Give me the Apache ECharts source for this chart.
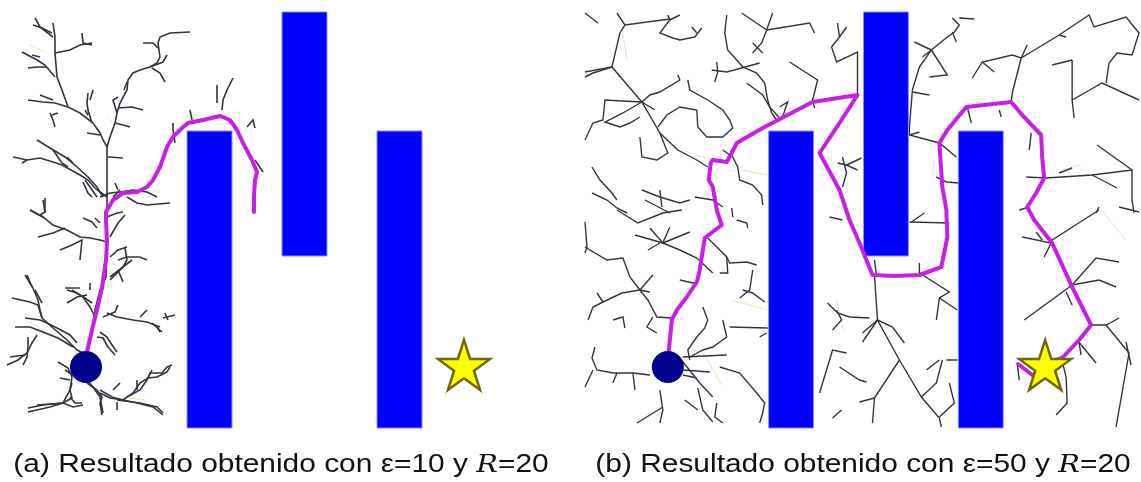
<!DOCTYPE html>
<html>
<head>
<meta charset="utf-8">
<script src="https://cdn.jsdelivr.net/npm/echarts@6/dist/echarts.min.js"></script>
<style>
  html, body { margin: 0; padding: 0; background: #ffffff; }
  #chart { width: 1141px; height: 482px; }
</style>
</head>
<body>
<div id="chart"></div>
<script>
// Workspace in pixels of the planning map (y grows downward)
const mapWidth = 560;
const mapHeight = 430;

// Rectangular obstacles: [xMin, yMin, xMax, yMax]
const obstacles = [
  [187, 131, 232, 428],
  [282, 12, 327, 256],
  [377, 131, 422, 428]
];

const startPoint = [86, 367];
const goalPoint = [464, 365];

const epsilonValues = [10, 50];
const radiusR = 20;
const panelLetters = ['a', 'b'];

// Explored tree branches, panel (a): eps = 10
const treeA = [
  [[35,18],[40,27],[53,37]],
  [[33,25],[42,28],[52,33]],
  [[53,23],[55,37],[55,53],[57,77],[62,90],[68,107],[80,113],[93,123],[100,133],[103,140],[107,147],[107,167],[107,187],[107,213],[107,243],[106,277],[100,290],[95,310],[92,330],[87,350]],
  [[55,53],[70,50],[80,45],[92,43]],
  [[82,33],[83,43],[92,45]],
  [[22,52],[37,60],[45,65],[55,77]],
  [[28,68],[38,67],[47,67]],
  [[32,55],[40,57]],
  [[28,100],[43,102],[55,103],[68,107]],
  [[40,95],[53,100]],
  [[50,113],[53,120],[55,127]],
  [[52,115],[58,113]],
  [[88,93],[87,103],[88,110],[92,123]],
  [[93,90],[90,100]],
  [[85,110],[88,115]],
  [[87,133],[100,135]],
  [[13,157],[27,160],[40,158],[53,162],[62,165],[80,175],[88,180],[95,188],[100,192],[107,197]],
  [[22,163],[27,160]],
  [[53,150],[62,163],[68,167]],
  [[37,140],[50,148],[65,157],[77,167],[88,177],[97,187],[103,197]],
  [[67,157],[73,163]],
  [[107,147],[110,137],[115,123],[117,113],[120,103],[127,90],[128,80],[133,73],[140,70],[150,67],[157,63],[160,57],[158,43],[160,37],[170,33],[190,32]],
  [[143,43],[153,43],[158,48]],
  [[150,67],[163,62],[167,55]],
  [[152,68],[160,73],[165,82]],
  [[115,123],[123,125],[130,127]],
  [[118,108],[132,107],[143,110]],
  [[117,113],[113,100],[118,97]],
  [[127,82],[124,90]],
  [[108,157],[123,158]],
  [[85,180],[90,187],[97,197]],
  [[83,182],[88,193],[92,197]],
  [[100,197],[110,193],[120,192],[133,190],[147,192],[157,197]],
  [[127,197],[137,203],[147,205],[170,203]],
  [[113,197],[120,190]],
  [[115,183],[118,190]],
  [[43,200],[45,213]],
  [[30,210],[43,217]],
  [[173,123],[173,130],[175,143]],
  [[190,110],[192,120]],
  [[217,85],[217,103]],
  [[233,78],[227,90],[223,100],[222,110]],
  [[247,127],[253,120],[255,128]],
  [[255,160],[263,172]],
  [[30,210],[43,217],[53,225],[67,230],[80,237],[90,238],[100,240],[107,242]],
  [[45,198],[45,212],[40,215]],
  [[38,237],[53,233],[65,228]],
  [[60,250],[72,245],[82,240],[80,260]],
  [[83,218],[92,222],[97,228]],
  [[95,218],[100,223]],
  [[107,217],[117,213],[123,212]],
  [[110,237],[118,223],[125,215]],
  [[110,257],[118,250],[127,247]],
  [[118,260],[127,257],[140,257],[147,260]],
  [[110,277],[123,267],[132,260]],
  [[110,280],[117,273],[123,267],[127,260],[125,248]],
  [[118,270],[123,282]],
  [[27,275],[32,287]],
  [[65,288],[80,288]],
  [[90,283],[90,290]],
  [[92,303],[85,298],[77,293],[67,290]],
  [[67,303],[77,297],[87,295]],
  [[72,290],[83,297],[90,307],[95,317]],
  [[107,313],[117,317],[133,320],[147,322],[160,327]],
  [[103,317],[115,312],[118,305]],
  [[147,310],[140,317]],
  [[163,318],[175,315]],
  [[152,323],[162,332]],
  [[157,327],[160,332]],
  [[165,313],[168,320]],
  [[12,298],[30,302],[38,305],[40,312],[42,318]],
  [[35,290],[42,303]],
  [[25,275],[33,288],[38,300],[40,310],[42,318],[53,328],[67,340],[77,350],[83,353]],
  [[25,318],[40,320],[47,323],[57,328],[70,335],[77,343]],
  [[15,327],[30,327],[43,332],[58,338],[73,347]],
  [[28,337],[28,347],[27,357],[23,365]],
  [[7,365],[18,360],[27,353],[32,343],[37,335]],
  [[10,357],[25,355]],
  [[97,337],[103,338],[108,347],[115,355]],
  [[100,332],[107,337],[112,345],[117,352]],
  [[58,362],[68,368],[72,377],[70,390],[63,403],[50,407],[28,412]],
  [[72,383],[70,390],[72,398],[63,403],[43,405],[28,408]],
  [[70,397],[75,403],[82,403]],
  [[37,405],[63,403],[73,407],[83,405]],
  [[65,370],[73,375]],
  [[60,378],[70,380]],
  [[87,380],[93,387],[100,397],[103,413]],
  [[87,383],[97,390],[102,397],[100,403],[102,415]],
  [[100,390],[112,397],[123,400],[137,403],[153,407],[163,415]],
  [[100,393],[110,398],[123,400],[133,393],[140,383],[148,378],[157,377],[167,372],[170,367]],
  [[117,400],[140,403],[157,407],[163,413]],
  [[137,390],[137,380]],
  [[148,378],[152,370]],
  [[113,390],[120,383]],
  [[127,397],[140,390],[147,380],[150,373],[162,373],[167,367],[172,365]],
  [[117,402],[117,410]]
];

// Rejected extensions, panel (a)
const faintA = [
  [[30,45],[45,52]], [[85,105],[95,113]], [[108,118],[118,127]],
  [[30,322],[45,332]], [[35,330],[70,343]], [[110,262],[125,270]],
  [[58,365],[70,372]], [[130,398],[145,400]]
];

// Explored tree branches, panel (b): eps = 50
const treeB = [
  [[3,13],[16,23]],
  [[35,13],[43,25],[88,19]],
  [[86,15],[88,20],[78,33],[91,38],[98,40],[113,37],[120,28]],
  [[110,27],[115,33]],
  [[88,20],[98,15]],
  [[43,25],[38,33],[30,67],[3,72]],
  [[30,67],[11,73],[3,77]],
  [[30,67],[60,102],[78,133],[86,153],[75,160],[60,157],[58,137]],
  [[60,102],[23,100],[21,120],[11,123],[3,140]],
  [[60,102],[41,113],[23,122],[38,127],[48,123],[58,117]],
  [[60,102],[68,95],[78,92],[98,80],[96,75]],
  [[60,102],[73,110]],
  [[78,133],[96,150],[115,160],[126,167]],
  [[106,80],[108,90],[126,100],[141,110],[148,120],[151,128],[141,137],[125,137],[116,127],[115,110],[98,107],[85,115],[76,127]],
  [[145,15],[143,33],[146,50],[155,60],[161,67],[175,73],[183,83],[186,100],[190,113],[195,120]],
  [[160,13],[185,30],[191,13]],
  [[185,30],[180,43],[171,53]],
  [[185,30],[228,23],[233,33]],
  [[135,62],[136,72],[133,82]],
  [[130,70],[145,72],[160,68],[178,63]],
  [[171,43],[181,53]],
  [[165,83],[181,95],[188,107],[198,118]],
  [[208,62],[236,80],[231,100],[233,108]],
  [[256,23],[258,37],[250,47],[255,62],[276,52],[276,95]],
  [[258,37],[265,27]],
  [[256,163],[265,165],[276,170]],
  [[261,157],[265,173],[261,187]],
  [[265,165],[280,158]],
  [[10,167],[18,180],[30,193],[35,200]],
  [[10,193],[25,200],[35,208],[45,213]],
  [[60,190],[78,197],[98,203],[108,200]],
  [[78,190],[80,207]],
  [[63,200],[88,213]],
  [[113,197],[131,200],[141,207]],
  [[141,150],[151,157],[156,167],[158,180],[171,185],[180,195],[181,205]],
  [[150,208],[151,217]],
  [[198,107],[206,102],[201,117]],
  [[3,222],[5,247],[3,253]],
  [[35,210],[56,223],[81,213],[100,210]],
  [[53,235],[81,243],[98,250],[115,258],[131,273]],
  [[68,228],[81,243],[88,227]],
  [[78,243],[66,250]],
  [[81,243],[108,232]],
  [[125,237],[145,257],[148,263],[165,262],[175,265]],
  [[145,257],[146,273],[138,273]],
  [[155,220],[165,223],[166,228]],
  [[3,247],[25,260],[41,258],[48,277],[58,290],[68,292]],
  [[58,290],[71,275]],
  [[58,290],[40,293],[21,302],[15,293]],
  [[21,302],[11,307],[6,320]],
  [[58,290],[66,300],[75,317],[90,318]],
  [[71,317],[65,327],[75,333]],
  [[31,320],[41,317],[43,328]],
  [[98,280],[111,283],[116,282]],
  [[161,290],[171,293],[183,302]],
  [[171,270],[168,290],[158,298]],
  [[121,307],[126,320],[123,328],[115,337],[106,350],[108,360]],
  [[141,320],[145,337],[131,347],[121,350],[108,357]],
  [[148,327],[186,328]],
  [[178,337],[185,333]],
  [[13,347],[10,358],[15,370],[31,373],[51,373],[68,375]],
  [[11,370],[3,387]],
  [[35,373],[31,383]],
  [[51,373],[53,390]],
  [[98,358],[118,383],[131,397]],
  [[101,357],[145,355]],
  [[101,370],[128,372]],
  [[101,375],[115,378]],
  [[138,367],[158,373],[175,393],[183,403],[181,413],[178,423]],
  [[116,388],[121,410],[131,422]],
  [[78,390],[81,410],[78,423]],
  [[81,407],[55,423]],
  [[103,400],[116,410]],
  [[135,403],[133,417],[141,423]],
  [[246,303],[256,313],[268,317],[288,318]],
  [[255,310],[260,320],[251,330]],
  [[238,393],[251,350],[265,353]],
  [[258,367],[278,380],[285,382]],
  [[251,418],[260,410]],
  [[248,217],[261,220]],
  [[371,18],[378,25],[373,32],[366,37],[350,50],[338,67],[331,90],[328,127],[328,135],[358,143],[375,157]],
  [[371,32],[375,42]],
  [[350,50],[333,42]],
  [[350,50],[341,57]],
  [[350,50],[366,75],[348,77]],
  [[331,92],[348,95]],
  [[378,18],[393,19]],
  [[328,135],[338,132]],
  [[391,78],[401,62],[431,55],[440,58],[446,45]],
  [[401,62],[413,72]],
  [[440,58],[431,93],[430,102]],
  [[440,58],[478,35],[508,15],[513,27],[545,17],[558,33],[551,55],[536,53],[528,63],[525,83]],
  [[478,35],[485,37]],
  [[491,60],[491,100],[493,118]],
  [[471,65],[491,60]],
  [[491,100],[521,83],[558,100]],
  [[386,107],[390,123]],
  [[418,110],[420,117]],
  [[450,133],[448,150]],
  [[445,177],[465,178],[511,175],[551,170],[551,200],[553,213]],
  [[516,145],[551,170]],
  [[511,175],[536,188]],
  [[478,173],[491,168]],
  [[355,177],[365,182],[378,183]],
  [[438,210],[448,207]],
  [[518,207],[515,213]],
  [[538,207],[558,212]],
  [[328,222],[368,223]],
  [[343,213],[330,222]],
  [[293,260],[295,275]],
  [[293,275],[296,320],[318,360],[340,397],[358,418],[360,427]],
  [[296,320],[281,342]],
  [[296,320],[311,327],[323,343]],
  [[296,320],[281,333]],
  [[318,360],[293,398],[291,423]],
  [[293,398],[278,402]],
  [[340,397],[355,383],[361,360]],
  [[358,417],[373,403],[368,383]],
  [[365,360],[376,360]],
  [[345,370],[358,360]],
  [[338,273],[368,292],[358,298],[355,320]],
  [[358,298],[376,310]],
  [[338,263],[338,275]],
  [[471,240],[518,210]],
  [[441,237],[470,243],[463,257]],
  [[455,232],[461,240]],
  [[491,285],[515,258],[538,262]],
  [[491,285],[518,280],[535,287]],
  [[491,285],[443,320]],
  [[485,292],[491,305]],
  [[508,325],[525,325],[538,318]],
  [[525,325],[548,353],[535,427]],
  [[545,342],[550,365]],
  [[496,340],[515,363]],
  [[498,343],[500,355]],
  [[480,357],[485,377],[486,403],[475,415]],
  [[436,363],[438,380]]
];

// Rejected extensions, panel (b)
const faintB = [
  [[40,28],[45,60]], [[100,150],[130,160]], [[160,170],[185,175]],
  [[150,300],[185,310]], [[120,350],[140,385]], [[255,300],[262,330]],
  [[520,210],[545,240]], [[480,170],[500,165]]
];

// Solution paths found by each run
const pathA = [
  [87,360],[87,352],[92,330],[97,310],[102,288],[106,260],[107,243],[106,220],[106,212],
  [113,200],[123,193],[137,192],[147,187],[153,180],[160,167],[167,147],[173,137],
  [182,128],[188,123],[203,120],[220,116],[230,120],[237,130],[243,143],[252,160],
  [257,172],[255,180],[254,197],[254,212]
];

const pathB = [
  [87,360],[87,350],[90,320],[95,310],[105,297],[115,282],[118,270],[123,238],[140,225],
  [135,210],[131,187],[127,180],[129,163],[131,160],[145,162],[150,153],[155,143],
  [181,128],[231,102],[276,95],[258,123],[238,153],[251,177],[258,190],[268,220],
  [278,243],[291,275],[313,276],[338,275],[360,267],[366,237],[365,210],[361,187],
  [358,143],[366,130],[385,107],[430,102],[441,115],[460,135],[461,157],[463,178],
  [455,193],[446,207],[453,220],[471,243],[491,287],[510,325],[498,340],[481,358],
  [475,360],[464,369],[451,375],[437,364]
];

const panels = [
  { tree: treeA, faint: faintA, path: pathA, left: 0, width: 1.6 },
  { tree: treeB, faint: faintB, path: pathB, left: 582, width: 1.4 }
];

const starPath = 'path://M50,0 L61.2,34.5 L97.6,34.5 L68.2,55.9 L79.4,90.5 L50,69.1 L20.6,90.5 L31.8,55.9 L2.4,34.5 L38.8,34.5 Z';

const grids = [], xAxes = [], yAxes = [], series = [];

panels.forEach((p, i) => {
  grids.push({ left: p.left, top: 0, width: mapWidth, height: mapHeight });
  xAxes.push({ type: 'value', gridIndex: i, min: 0, max: mapWidth, show: false });
  yAxes.push({ type: 'value', gridIndex: i, min: 0, max: mapHeight, inverse: true, show: false });

  series.push({
    type: 'lines',
    coordinateSystem: 'cartesian2d',
    xAxisIndex: i, yAxisIndex: i,
    polyline: true,
    silent: true,
    z: 1,
    lineStyle: { color: '#f1e2b8', width: 1, opacity: 1 },
    data: p.faint.map(c => ({ coords: c }))
  });

  series.push({
    type: 'lines',
    coordinateSystem: 'cartesian2d',
    xAxisIndex: i, yAxisIndex: i,
    polyline: true,
    silent: true,
    z: 1,
    lineStyle: { color: '#34343f', width: p.width, opacity: 1 },
    data: p.tree.map(c => ({ coords: c }))
  });

  series.push({
    type: 'custom',
    xAxisIndex: i, yAxisIndex: i,
    silent: true,
    z: 2,
    data: obstacles,
    renderItem: (params, api) => {
      const a = api.coord([api.value(0), api.value(1)]);
      const b = api.coord([api.value(2), api.value(3)]);
      return {
        type: 'rect',
        shape: { x: a[0], y: a[1], width: b[0] - a[0], height: b[1] - a[1] },
        style: { fill: '#0000ff', stroke: '#8c8cff', lineWidth: 1 }
      };
    }
  });

  series.push({
    type: 'line',
    xAxisIndex: i, yAxisIndex: i,
    data: p.path,
    showSymbol: false,
    silent: true,
    z: 3,
    lineStyle: { color: '#c81fe4', width: 4, join: 'round', cap: 'round' }
  });

  series.push({
    type: 'scatter',
    xAxisIndex: i, yAxisIndex: i,
    data: [startPoint],
    symbol: 'circle',
    symbolSize: 32,
    silent: true,
    z: 4,
    itemStyle: { color: '#00008c', opacity: 1 }
  });

  series.push({
    type: 'scatter',
    xAxisIndex: i, yAxisIndex: i,
    data: [goalPoint],
    symbol: starPath,
    symbolSize: [52, 50],
    silent: true,
    z: 5,
    itemStyle: { color: '#ffff00', borderColor: '#6e6800', borderWidth: 2.5, opacity: 1 }
  });
});

const captions = panelLetters.map((l, i) => ({
  type: 'text',
  x: panels[i].left + 281,
  y: 465,
  scaleX: 1.15,
  style: {
    text: '(' + l + ') Resultado obtenido con \u03b5=' + epsilonValues[i] + ' y {r|R}=' + radiusR,
    font: '26px "Liberation Sans", Arial, sans-serif',
    fill: '#111111',
    align: 'center',
    verticalAlign: 'middle',
    rich: {
      r: { fontFamily: '"DejaVu Serif", serif', fontStyle: 'italic', fontSize: 25, fill: '#111111' }
    }
  }
}));

const chart = echarts.init(document.getElementById('chart'), null, { renderer: 'canvas' });
chart.setOption({
  animation: false,
  backgroundColor: '#ffffff',
  grid: grids,
  xAxis: xAxes,
  yAxis: yAxes,
  series: series,
  graphic: captions
});
</script>
</body>
</html>
